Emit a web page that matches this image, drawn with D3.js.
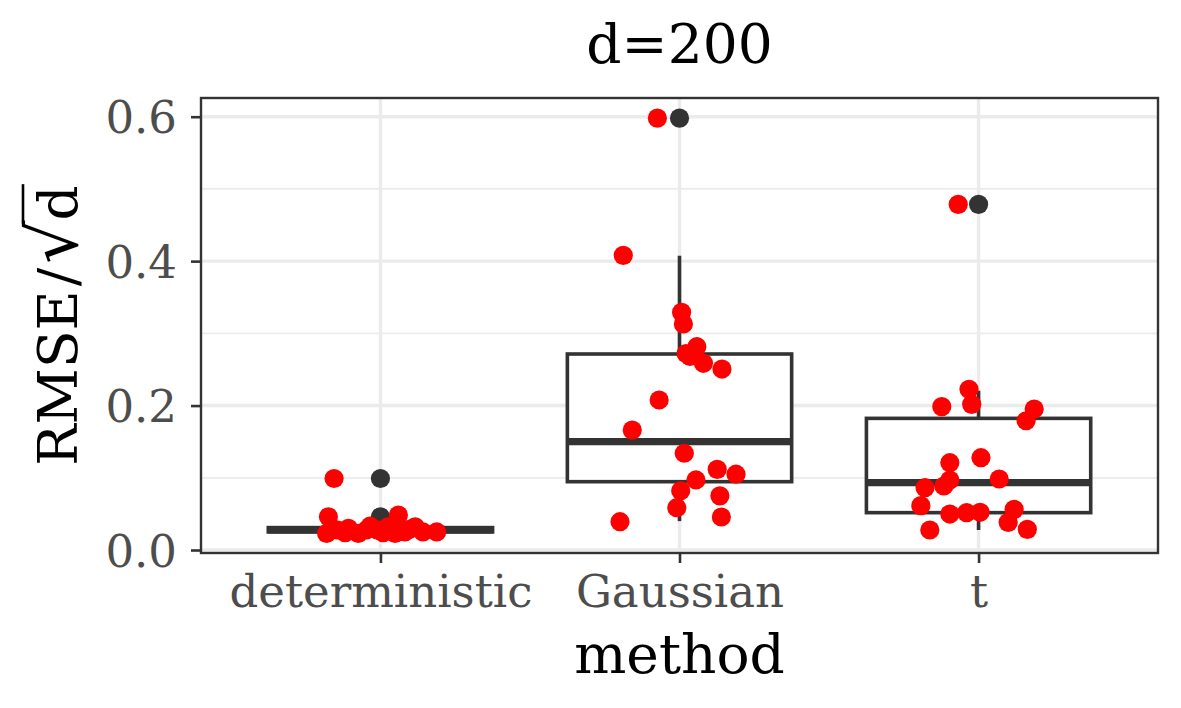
<!DOCTYPE html>
<html>
<head>
<meta charset="utf-8">
<script src="https://cdn.jsdelivr.net/npm/d3@7"></script>
<style>
  html, body { margin: 0; padding: 0; background: #fff; }
  svg { display: block; }
  text { font-family: "DejaVu Serif", serif; }
</style>
</head>
<body>
<svg id="chart" width="1181" height="708"></svg>
<script>
// ---------------- data ----------------
const categories = ["deterministic", "Gaussian", "t"];
const yTicks = [0.0, 0.2, 0.4, 0.6];
const yTickLabels = ["0.0", "0.2", "0.4", "0.6"];
const yMinor = [0.1, 0.3, 0.5];

// jittered points: value and horizontal jitter (in category-step units)
const detValues  = [0.099, 0.046, 0.023, 0.028, 0.030, 0.023, 0.028, 0.028, 0.032, 0.0485, 0.023, 0.025, 0.032, 0.025, 0.025, 0.033, 0.024, 0.029, 0.024, 0.029];
const detJitter  = [-0.155, -0.174, -0.18, -0.146, -0.107, -0.074, -0.046, -0.012, 0.025, 0.06, 0.049, 0.082, 0.116, 0.142, 0.188, -0.035, 0.009, 0.099, -0.118, 0.039];
const gauValues  = [0.598, 0.408, 0.329, 0.313, 0.2815, 0.268, 0.2585, 0.2506, 0.2077, 0.166, 0.134, 0.1117, 0.105, 0.097, 0.082, 0.075, 0.0586, 0.0457, 0.0392, 0.272];
const gauJitter  = [-0.074, -0.188, 0.007, 0.013, 0.058, 0.035, 0.080, 0.142, -0.068, -0.158, 0.016, 0.126, 0.189, 0.055, 0.004, 0.135, -0.009, 0.14, -0.199, 0.022];
const tValues    = [0.4786, 0.2225, 0.1985, 0.2017, 0.1952, 0.179, 0.1278, 0.1209, 0.0983, 0.0969, 0.0886, 0.0863, 0.0614, 0.0563, 0.0498, 0.0517, 0.0522, 0.0383, 0.0277, 0.0286];
const tJitter    = [-0.068, -0.032, -0.123, -0.023, 0.186, 0.159, 0.008, -0.096, 0.069, -0.096, -0.116, -0.179, -0.193, 0.119, -0.096, -0.040, 0.005, 0.099, -0.163, 0.163];

// boxplot statistics per category
const boxLow      = [0.022, 0.040, 0.0277];
const boxQ1       = [0.025, 0.0946, 0.0517];
const boxMedian   = [0.028, 0.150, 0.0932];
const boxQ3       = [0.031, 0.2714, 0.1823];
const boxHigh     = [0.040, 0.4075, 0.2206];
const boxOutliers = [[0.099, 0.046], [0.598], [0.4786]];

const titleText = "d=200";
const xTitle = "method";

// ---------------- layout ----------------
const svg = d3.select("#chart");
const P = { left: 201, right: 1158, top: 98, bottom: 553 };

const x = d3.scalePoint().domain(categories).range([P.left, P.right]).padding(0.6);
const step = x.step();
const y = d3.scaleLinear().domain([-0.00415, 0.6259]).range([P.bottom, P.top]);

const gridCol = "#EBEBEB";
const dark = "#333333";

// panel background
svg.append("rect").attr("x", P.left).attr("y", P.top)
  .attr("width", P.right - P.left).attr("height", P.bottom - P.top).attr("fill", "#fff");

// minor grid
svg.append("g").selectAll("line").data(yMinor).join("line")
  .attr("x1", P.left).attr("x2", P.right)
  .attr("y1", d => y(d)).attr("y2", d => y(d))
  .attr("stroke", gridCol).attr("stroke-width", 1.8);
// major grid
svg.append("g").selectAll("line").data(yTicks).join("line")
  .attr("x1", P.left).attr("x2", P.right)
  .attr("y1", d => y(d)).attr("y2", d => y(d))
  .attr("stroke", gridCol).attr("stroke-width", 3.4);
svg.append("g").selectAll("line").data(categories).join("line")
  .attr("x1", d => x(d)).attr("x2", d => x(d))
  .attr("y1", P.top).attr("y2", P.bottom)
  .attr("stroke", gridCol).attr("stroke-width", 3.4);

// boxplots
const boxes = categories.map((c, i) => ({
  c, low: boxLow[i], q1: boxQ1[i], med: boxMedian[i], q3: boxQ3[i], high: boxHigh[i], out: boxOutliers[i]
}));
const bw = step * 0.75;
const lw = 3.6;
const bg = svg.append("g");
boxes.forEach(b => {
  const cx = x(b.c);
  bg.append("line").attr("x1", cx).attr("x2", cx).attr("y1", y(b.q3)).attr("y2", y(b.high))
    .attr("stroke", dark).attr("stroke-width", lw);
  bg.append("line").attr("x1", cx).attr("x2", cx).attr("y1", y(b.q1)).attr("y2", y(b.low))
    .attr("stroke", dark).attr("stroke-width", lw);
  bg.append("rect").attr("x", cx - bw / 2).attr("width", bw)
    .attr("y", y(b.q3)).attr("height", y(b.q1) - y(b.q3))
    .attr("fill", "#fff").attr("stroke", dark).attr("stroke-width", lw);
  bg.append("line").attr("x1", cx - bw / 2).attr("x2", cx + bw / 2)
    .attr("y1", y(b.med)).attr("y2", y(b.med))
    .attr("stroke", dark).attr("stroke-width", 7.2);
  bg.selectAll(null).data(b.out).join("circle")
    .attr("cx", cx).attr("cy", d => y(d)).attr("r", 9.6).attr("fill", dark);
});

// jittered points
const groups = [
  { c: "deterministic", v: detValues, j: detJitter },
  { c: "Gaussian", v: gauValues, j: gauJitter },
  { c: "t", v: tValues, j: tJitter }
];
const pts = groups.flatMap(g => g.v.map((v, i) => ({ c: g.c, v, j: g.j[i] })));
svg.append("g").selectAll("circle").data(pts).join("circle")
  .attr("cx", d => x(d.c) + d.j * step)
  .attr("cy", d => y(d.v))
  .attr("r", 9.6).attr("fill", "#FF0000");

// panel border
svg.append("rect").attr("x", P.left).attr("y", P.top)
  .attr("width", P.right - P.left).attr("height", P.bottom - P.top)
  .attr("fill", "none").attr("stroke", dark).attr("stroke-width", 2.4);

// axes
const yAxis = d3.axisLeft(y).tickValues(yTicks).tickFormat((d, i) => yTickLabels[i])
  .tickSize(10).tickPadding(14);
const gy = svg.append("g").attr("transform", `translate(${P.left},0)`).call(yAxis);
gy.select(".domain").remove();
gy.selectAll(".tick line").attr("stroke", dark).attr("stroke-width", 2.6);
gy.selectAll(".tick text").attr("fill", "#4D4D4D").attr("font-size", 45)
  .attr("font-family", "DejaVu Serif").attr("dy", "0.36em");

const xAxis = d3.axisBottom(x).tickSize(10).tickPadding(12);
const gx = svg.append("g").attr("transform", `translate(0,${P.bottom})`).call(xAxis);
gx.select(".domain").remove();
gx.selectAll(".tick line").attr("stroke", dark).attr("stroke-width", 2.6);
gx.selectAll(".tick text").attr("fill", "#4D4D4D").attr("font-size", 45)
  .attr("font-family", "DejaVu Serif").attr("dy", "0.71em");

// titles
const midX = (P.left + P.right) / 2;
svg.append("text").attr("x", midX).attr("y", 63).attr("text-anchor", "middle")
  .attr("font-size", 55).attr("fill", "#000").text(titleText);
svg.append("text").attr("x", midX).attr("y", 673).attr("text-anchor", "middle")
  .attr("font-size", 55).attr("fill", "#000").text(xTitle);

// y title: RMSE/sqrt(d)
const yt = svg.append("g").attr("transform", `translate(77,${(P.top + P.bottom) / 2}) rotate(-90)`);
const ytxt = yt.append("text").attr("text-anchor", "middle").attr("font-size", 55).attr("fill", "#000");
ytxt.append("tspan").text("RMSE");
ytxt.append("tspan").attr("dx", 4).text("/");
ytxt.append("tspan").attr("dx", 4).attr("font-size", 68).text("\u221A");
ytxt.append("tspan").text("d");
const node = ytxt.node();
const ext = node.getExtentOfChar(6);
const endD = ext.x + ext.width;
yt.append("line").attr("x1", node.getExtentOfChar(5).x + node.getExtentOfChar(5).width - 3).attr("x2", endD + 1)
  .attr("y1", -54).attr("y2", -54).attr("stroke", "#000").attr("stroke-width", 2.6);
</script>
</body>
</html>
